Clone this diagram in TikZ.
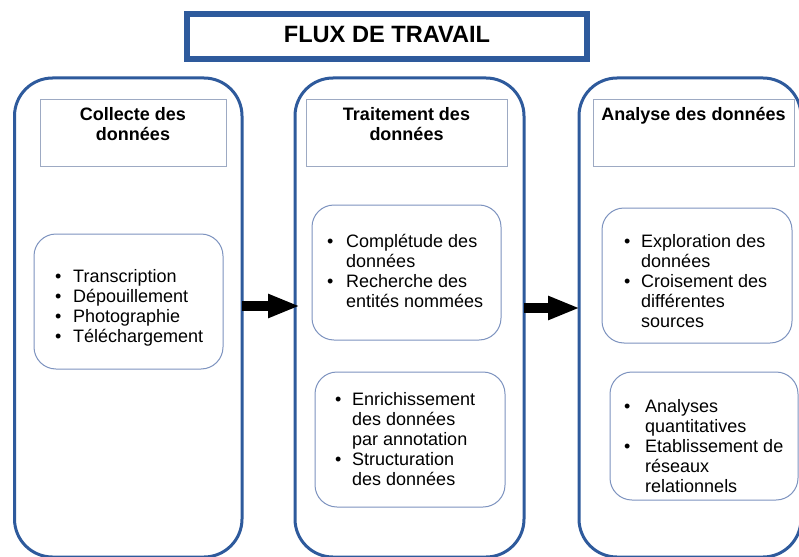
\documentclass[tikz,border=0pt]{standalone}
\usepackage{fontspec}
\setmainfont{Liberation Sans}
\usetikzlibrary{arrows.meta}
\definecolor{colblue}{HTML}{2E5A9C}
\definecolor{hdrgray}{HTML}{9DAAC3}
\definecolor{boxblue}{HTML}{7D93BF}
\newcommand\blt[1]{\makebox[#1][l]{•}}
\tikzset{
  titlebox/.style={draw=colblue, line width=5.5pt, inner sep=0pt, outer sep=0pt},
  titletext/.style={font=\fontsize{23.6}{26}\selectfont\bfseries, inner sep=0pt},
  column/.style={draw=colblue, line width=3pt, rounded corners=38pt, inner sep=0pt, outer sep=0pt, minimum height=479pt},
  header/.style={draw=hdrgray, line width=1pt, inner sep=0pt, outer sep=0pt, minimum height=66pt},
  hdrtext/.style={font=\fontsize{18}{20}\selectfont\bfseries, align=center, inner sep=0pt},
  content/.style={draw=boxblue, line width=1pt, rounded corners=22pt, inner sep=0pt, outer sep=0pt},
  listtext/.style={font=\fontsize{18}{20}\selectfont, align=left, inner sep=0pt, anchor=base west},
  bigarrow/.style={draw=black, fill=black, line width=10pt, -{Triangle[length=32pt,width=22pt]}}
}
\begin{document}
\begin{tikzpicture}[x=1pt,y=-1pt]
\useasboundingbox (0,0) rectangle (799,556);
\clip (0,0) rectangle (799,556);
\fill[white] (0,0) rectangle (799,556);

% title
\node[titlebox, minimum width=400pt, minimum height=45pt] (title) at (387,36.5) {};
\node[titletext, anchor=base] (titletxt) at (387,43) {FLUX DE TRAVAIL};

% columns
\node[column, minimum width=227.5pt] (c1) at (128.25,317.5) {};
\node[column, minimum width=229pt] (c2) at (409.5,317.5) {};
\node[column, minimum width=222pt] (c3) at (690,317.5) {};

% headers
\node[header, minimum width=186pt] (h1) at (133,133) {};
\node[header, minimum width=201pt] (h2) at (406.5,133) {};
\node[header, minimum width=201pt] (h3) at (693.5,133) {};
\node[hdrtext, anchor=base] (h1t) at (133,141) {Collecte des\\données};
\node[hdrtext, anchor=base] (h2t) at (406.5,141) {Traitement des\\données};
\node[hdrtext, anchor=base] (h3t) at (693.5,121) {Analyse des données};

% content boxes
\node[content, minimum width=189pt, minimum height=135pt] (b1) at (128.5,301.5) {};
\node[content, minimum width=189pt, minimum height=135pt] (b2a) at (406.5,272.5) {};
\node[content, minimum width=190pt, minimum height=135pt] (b2b) at (410,439.5) {};
\node[content, minimum width=190pt, minimum height=135pt] (b3a) at (697,275.5) {};
\node[content, minimum width=188pt, minimum height=128pt] (b3b) at (704,436) {};

% list texts (anchor = baseline of the last line)
\node[listtext] (t1) at (55,342) {\blt{18pt}Transcription\\\blt{18pt}Dépouillement\\\blt{18pt}Photographie\\\blt{18pt}Téléchargement};
\node[listtext] (t2a) at (327,307) {\blt{19pt}Complétude des\\\hspace*{19pt}données\\\blt{19pt}Recherche des\\\hspace*{19pt}entités nommées};
\node[listtext] (t2b) at (335,485) {\blt{17pt}Enrichissement\\\hspace*{17pt}des données\\\hspace*{17pt}par annotation\\\blt{17pt}Structuration\\\hspace*{17pt}des données};
\node[listtext] (t3a) at (624,327) {\blt{17pt}Exploration des\\\hspace*{17pt}données\\\blt{17pt}Croisement des\\\hspace*{17pt}différentes\\\hspace*{17pt}sources};
\node[listtext] (t3b) at (624,492) {\blt{21pt}Analyses\\\hspace*{21pt}quantitatives\\\blt{21pt}Etablissement de\\\hspace*{21pt}réseaux\\\hspace*{21pt}relationnels};

% arrows
\draw[bigarrow] ([yshift=11.5pt]c1.east) -- ([xshift=5pt,yshift=11.5pt]c2.west);
\draw[bigarrow] ([yshift=9.5pt]c2.east) -- ([xshift=1pt,yshift=9.5pt]c3.west);
\end{tikzpicture}
\end{document}
